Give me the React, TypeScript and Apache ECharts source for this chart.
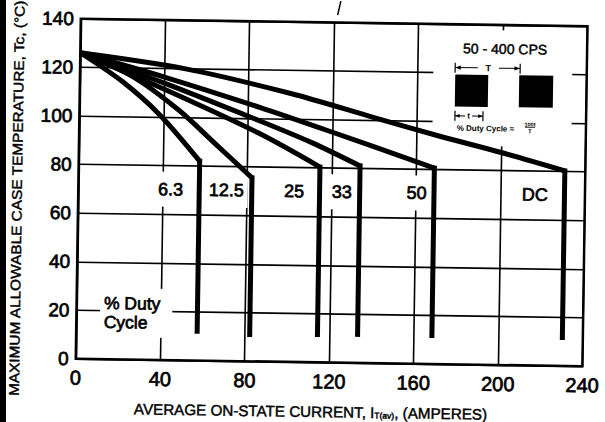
import React, { useEffect, useRef } from 'react';
import * as echarts from 'echarts';

// ---- data ----
const xTickValues = [0, 40, 80, 120, 160, 200, 240];
const yTickValues = [0, 20, 40, 60, 80, 100, 120, 140];
const dutyLabels = ['6.3', '12.5', '25', '33', '50', 'DC'];

// [current (A), case temperature (°C)] ; last point is the bottom of the vertical drop
const curve6_3 = [[0, 126], [20, 114.5], [38, 101], [57.3, 82.1], [57.3, 11]];
const curve12_5 = [[0, 126], [25, 116.5], [47, 103], [65, 89], [82.2, 75.5], [82.2, 10]];
const curve25 = [[0, 126], [40, 111.5], [85, 94], [114.3, 80.4], [114.3, 10.4]];
const curve33 = [[0, 126], [40, 114], [85, 99.2], [110, 90.5], [133.3, 81.1], [133.3, 10.7]];
const curve50 = [[0, 126], [40, 116.5], [85, 104.7], [120, 94.8], [168.5, 80.7], [168.5, 10.7]];
const curveDC = [[0, 126], [50, 120], [100, 110.5], [140, 101], [170, 94], [200, 87.5], [230.3, 80.3], [230.3, 10.7]];

const labelCurrents = [43.7, 70.1, 102.2, 124.9, 160.2, 216.3];
const labelTemp = 70.3;
const dutyNotePos = [11.1, 19.2];

const FONT = '"Liberation Sans", Arial, Helvetica, sans-serif';
const blk = '#000';
const heavy = { stroke: blk, lineWidth: 0.7 };
const semi = { stroke: blk, lineWidth: 0.45 };

function staticGraphics(): any[] {
  return [
    // inset white box (covers grid lines)
    { type: 'rect', z: 1, shape: { x: 431.5, y: 28, width: 139, height: 116 }, style: { fill: '#fff' } },
    { type: 'text', z: 1, x: 503, y: 46.4, style: { text: '50 - 400 CPS', fontSize: 14, fontFamily: FONT, fill: blk, align: 'center', verticalAlign: 'middle', ...semi } },
    // T dimension
    { type: 'line', z: 1, shape: { x1: 453.3, y1: 61, x2: 453.3, y2: 71 }, style: { stroke: blk, lineWidth: 1.2 } },
    { type: 'line', z: 1, shape: { x1: 518.3, y1: 61, x2: 518.3, y2: 71 }, style: { stroke: blk, lineWidth: 1.2 } },
    { type: 'line', z: 1, shape: { x1: 453.3, y1: 65.7, x2: 476, y2: 65.7 }, style: { stroke: blk, lineWidth: 1 } },
    { type: 'line', z: 1, shape: { x1: 497, y1: 65.7, x2: 518.3, y2: 65.7 }, style: { stroke: blk, lineWidth: 1 } },
    { type: 'polygon', z: 1, shape: { points: [[453.3, 65.7], [459, 63.5], [459, 67.9]] }, style: { fill: blk } },
    { type: 'polygon', z: 1, shape: { points: [[518.3, 65.7], [512.6, 63.5], [512.6, 67.9]] }, style: { fill: blk } },
    { type: 'text', z: 1, x: 486.5, y: 66, style: { text: 'T', fontSize: 9, fontWeight: 'bold', fontFamily: FONT, fill: blk, align: 'center', verticalAlign: 'middle' } },
    // pulses
    { type: 'rect', z: 1, shape: { x: 453.5, y: 72.6, width: 33, height: 32 }, style: { fill: blk } },
    { type: 'rect', z: 1, shape: { x: 517.5, y: 72.6, width: 34, height: 32 }, style: { fill: blk } },
    // t dimension
    { type: 'line', z: 1, shape: { x1: 453.8, y1: 109, x2: 453.8, y2: 119 }, style: { stroke: blk, lineWidth: 1.2 } },
    { type: 'line', z: 1, shape: { x1: 481.8, y1: 109, x2: 481.8, y2: 119 }, style: { stroke: blk, lineWidth: 1.2 } },
    { type: 'line', z: 1, shape: { x1: 453.8, y1: 114, x2: 464, y2: 114 }, style: { stroke: blk, lineWidth: 1 } },
    { type: 'line', z: 1, shape: { x1: 471, y1: 114, x2: 481.8, y2: 114 }, style: { stroke: blk, lineWidth: 1 } },
    { type: 'polygon', z: 1, shape: { points: [[453.8, 114], [458.5, 112.2], [458.5, 115.8]] }, style: { fill: blk } },
    { type: 'polygon', z: 1, shape: { points: [[481.8, 114], [477.1, 112.2], [477.1, 115.8]] }, style: { fill: blk } },
    { type: 'text', z: 1, x: 467.5, y: 114, style: { text: 't', fontSize: 8, fontWeight: 'bold', fontFamily: FONT, fill: blk, align: 'center', verticalAlign: 'middle' } },
    // duty cycle formula
    { type: 'text', z: 1, x: 455.7, y: 126.4, style: { text: '% Duty Cycle =', fontSize: 8, fontWeight: 'bold', fontFamily: FONT, fill: blk, align: 'left', verticalAlign: 'middle' } },
    { type: 'text', z: 1, x: 529, y: 121.6, style: { text: '100t', fontSize: 5.5, fontWeight: 'bold', fontFamily: FONT, fill: blk, align: 'center', verticalAlign: 'middle' } },
    { type: 'line', z: 1, shape: { x1: 524, y1: 124.4, x2: 534, y2: 124.4 }, style: { stroke: blk, lineWidth: 0.8 } },
    { type: 'text', z: 1, x: 529, y: 128.4, style: { text: 'T', fontSize: 6, fontWeight: 'bold', fontFamily: FONT, fill: blk, align: 'center', verticalAlign: 'middle' } },
    // small mark at the top edge (cropped character in the scan)
    { type: 'line', z: 1, shape: { x1: 338, y1: 1, x2: 335, y2: 15 }, style: { stroke: blk, lineWidth: 1.5 } },
    // axis titles
    {
      type: 'text', z: 5, x: 17.1, y: 203, rotation: Math.PI / 2, scaleX: 1.1,
      style: { text: 'MAXIMUM ALLOWABLE CASE TEMPERATURE, Tc, (°C)', fontSize: 14, fontFamily: FONT, fill: blk, align: 'center', verticalAlign: 'middle', ...semi },
    },
    {
      type: 'text', z: 5, x: 313.75, y: 411.8,
      style: {
        text: 'AVERAGE ON-STATE CURRENT, I{sub|T(av)}, (AMPERES)',
        fontSize: 15.2, fontFamily: FONT, fill: blk, align: 'center', verticalAlign: 'middle', ...semi,
        rich: { sub: { fontSize: 8.5, fontFamily: FONT, fill: blk, verticalAlign: 'bottom', padding: [6, 0, 0, 0] } },
      },
    },
  ];
}

function buildOption() {
  const curves = [curve6_3, curve12_5, curve25, curve33, curve50, curveDC];
  const lineStyle = { color: '#000', width: 5, join: 'miter', cap: 'butt' };
  const curveSeries = curves.map((d, i) => ({
    type: 'line',
    name: dutyLabels[i],
    data: d.slice(0, d.length - 1),
    symbol: 'none',
    smooth: 0.3,
    z: 3,
    lineStyle,
  }));
  const dropSeries = curves.map((d, i) => {
    const knee = d[d.length - 2];
    const bottom = d[d.length - 1];
    return {
      type: 'line',
      name: dutyLabels[i] + ' drop',
      data: [[knee[0], knee[1] + 1], bottom],
      symbol: 'none',
      z: 3,
      lineStyle,
    };
  });

  const tickLabel = { color: '#000', fontFamily: FONT, textBorderColor: '#000', textBorderWidth: 0.7 };

  return {
    animation: false,
    backgroundColor: 'transparent',
    grid: { left: 78.25, right: 17.75, top: 22.5, bottom: 59.5, show: true, borderColor: '#000', borderWidth: 2.5, containLabel: false },
    xAxis: {
      type: 'value',
      min: xTickValues[0],
      max: xTickValues[xTickValues.length - 1],
      interval: xTickValues[1] - xTickValues[0],
      axisLine: { show: false },
      axisTick: { show: false },
      axisLabel: { ...tickLabel, fontSize: 20, margin: 9 },
      splitLine: { show: true, lineStyle: { color: '#000', width: 1.6 } },
    },
    yAxis: {
      type: 'value',
      min: yTickValues[0],
      max: yTickValues[yTickValues.length - 1],
      interval: yTickValues[1] - yTickValues[0],
      axisLine: { show: false },
      axisTick: { show: false },
      axisLabel: { ...tickLabel, fontSize: 19, margin: 7 },
      splitLine: { show: true, lineStyle: { color: '#000', width: 1.6 } },
    },
    series: [...curveSeries, ...dropSeries],
    graphic: { elements: staticGraphics() },
  };
}

export default function App() {
  const ref = useRef<HTMLDivElement>(null);
  useEffect(() => {
    if (!ref.current) return;
    const chart = echarts.init(ref.current, undefined, { renderer: 'svg' });
    chart.setOption(buildOption() as any);

    // curve labels placed at data coordinates through the chart's own scales
    const labelEls: any[] = labelCurrents.map((x, i) => {
      const p = chart.convertToPixel({ gridIndex: 0 }, [x, labelTemp]) as number[];
      return {
        type: 'text', z: 2, x: p[0], y: p[1],
        style: {
          text: dutyLabels[i], fontSize: 18, fontFamily: FONT, fill: blk, ...heavy,
          align: 'center', verticalAlign: 'middle', backgroundColor: '#fff', padding: [11, 4, 6, 4],
        },
      };
    });
    const q = chart.convertToPixel({ gridIndex: 0 }, dutyNotePos) as number[];
    labelEls.push({
      type: 'text', z: 2, x: q[0], y: q[1],
      style: {
        text: '% Duty\nCycle', fontSize: 17.5, lineHeight: 19, fontFamily: FONT, fill: blk, ...heavy,
        align: 'left', verticalAlign: 'middle', backgroundColor: '#fff', padding: [3, 12, 8, 4],
      },
    });
    chart.setOption({ graphic: { elements: [...staticGraphics(), ...labelEls] } } as any);
    return () => chart.dispose();
  }, []);
  return (
    <div style={{ position: 'fixed', left: 0, top: 0, width: 605, height: 422, overflow: 'hidden', background: '#fff' }}>
      <div
        ref={ref}
        style={{ position: 'absolute', left: 0, top: 0, width: 605, height: 422, transform: 'rotate(0.85deg)', transformOrigin: '332.75px 192.5px' }}
      />
      <div style={{ position: 'absolute', left: 0, top: 0, width: 6, height: 422, background: '#000' }} />
    </div>
  );
}
